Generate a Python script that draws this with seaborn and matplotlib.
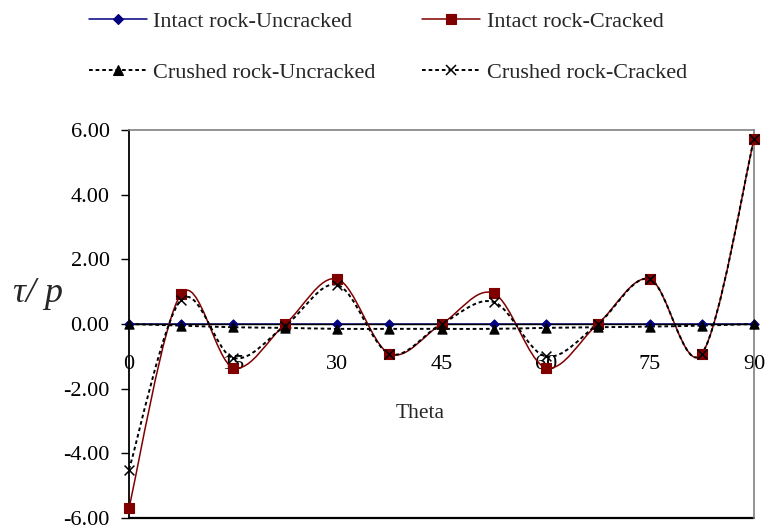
import numpy as np
import pandas as pd
import matplotlib
matplotlib.use("Agg")
import matplotlib.pyplot as plt
from matplotlib.path import Path
from matplotlib.patches import PathPatch
from matplotlib.lines import Line2D
import seaborn as sns

# Normalised shear stress around the opening versus angle
theta = [0, 7.5, 15, 22.5, 30, 37.5, 45, 52.5, 60, 67.5, 75, 82.5, 90]
intact_uncracked = [0.0, 0.0, 0.0, 0.0, 0.0, 0.0, 0.0, 0.0, 0.0, 0.0, 0.0, 0.0, 0.0]
intact_cracked = [-5.68, 0.93, -1.35, 0.0, 1.39, -0.92, 0.0, 0.95, -1.35, 0.0, 1.39, -0.92, 5.72]
crushed_uncracked = [0.0, -0.05, -0.10, -0.12, -0.15, -0.15, -0.15, -0.15, -0.12, -0.10, -0.08, -0.05, 0.0]
crushed_cracked = [-4.50, 0.75, -1.05, -0.05, 1.21, -0.92, 0.0, 0.68, -1.00, 0.0, 1.39, -0.92, 5.72]

series_names = ["Intact rock-Uncracked", "Intact rock-Cracked",
                "Crushed rock-Uncracked", "Crushed rock-Cracked"]
x_ticks = [0, 15, 30, 45, 60, 75, 90]
y_ticks = [-6, -4, -2, 0, 2, 4, 6]
x_tick_labels = [str(v) for v in x_ticks]
y_tick_labels = [f"{v:.2f}" for v in y_ticks]

sns.set_theme(style="white")
plt.rcParams["font.family"] = ["Liberation Serif", "DejaVu Serif"]

DOT = (0, (1.9, 1.5))
styles = {
    "Intact rock-Uncracked": dict(color="#000080", ls="-", lw=1.1, marker="D", s=22, mlw=0.8),
    "Intact rock-Cracked": dict(color="#800000", ls="-", lw=1.1, marker="s", s=60, mlw=0.8),
    "Crushed rock-Uncracked": dict(color="black", ls=DOT, lw=1.4, marker="^", s=44, mlw=0.8),
    "Crushed rock-Cracked": dict(color="black", ls=DOT, lw=1.4, marker="x", s=50, mlw=1.1),
}

df = pd.DataFrame({
    "theta": theta * 4,
    "value": intact_uncracked + intact_cracked + crushed_uncracked + crushed_cracked,
    "series": sum([[n] * len(theta) for n in series_names], []),
})


def smooth_path(xs, ys):
    """Cubic Bezier curve through the points (Catmull-Rom style tangents)."""
    p = np.column_stack([xs, ys]).astype(float)
    ext = np.vstack([p[0], p, p[-1]])
    verts = [p[0]]
    codes = [Path.MOVETO]
    for i in range(len(p) - 1):
        a, b, c, d = ext[i], ext[i + 1], ext[i + 2], ext[i + 3]
        verts += [b + (c - a) / 6.0, c - (d - b) / 6.0, c]
        codes += [Path.CURVE4] * 3
    return Path(verts, codes)


fig = plt.figure(figsize=(7.65, 5.27), dpi=100)
ax = fig.add_axes([129 / 765, 9 / 527, 625 / 765, 388 / 527])

# smoothed connecting lines
for k, name in enumerate(series_names):
    st = styles[name]
    sub = df[df["series"] == name]
    patch = PathPatch(smooth_path(sub["theta"], sub["value"]), fill=False,
                      edgecolor=st["color"], linewidth=st["lw"], linestyle=st["ls"],
                      zorder=2 + k, capstyle="butt")
    ax.add_patch(patch)

# markers
for k, name in enumerate(series_names):
    st = styles[name]
    sub = df[df["series"] == name]
    if st["marker"] == "x":
        sns.scatterplot(data=sub, x="theta", y="value", marker="x", s=st["s"],
                        color=st["color"], linewidth=st["mlw"], ax=ax, zorder=10 + k,
                        legend=False, clip_on=False)
    else:
        sns.scatterplot(data=sub, x="theta", y="value", marker=st["marker"], s=st["s"],
                        color=st["color"], edgecolor=st["color"], linewidth=st["mlw"],
                        ax=ax, zorder=10 + k, legend=False, clip_on=False)

ax.set_xlim(0, 90)
ax.set_ylim(-6, 6)
ax.set_xticks(x_ticks)
ax.set_xticklabels(x_tick_labels)
ax.set_yticks(y_ticks)
ax.set_yticklabels(y_tick_labels)
ax.set_xlabel("")
ax.set_ylabel("")
ax.tick_params(axis="x", length=0, pad=22, labelsize=16, colors="black")
ax.tick_params(axis="y", length=6, width=1.0, direction="out", pad=8,
               labelsize=16, colors="black", left=True)

ax.spines["bottom"].set_position(("data", 0))
ax.spines["bottom"].set_color("black")
ax.spines["bottom"].set_linewidth(1.0)
ax.spines["left"].set_color("black")
ax.spines["left"].set_linewidth(1.3)
for side in ("top", "right"):
    ax.spines[side].set_color("#808080")
    ax.spines[side].set_linewidth(1.2)
ax.axhline(-6, color="black", lw=1.6, clip_on=False, zorder=1)

ax.text((420 - 129) / 625, (518 - 418) / 388, "Theta", transform=ax.transAxes,
        ha="center", va="baseline", fontsize=15.5)
fig.text(13 / 765, 1 - 302 / 527, "τ/ p", ha="left", va="baseline",
         fontsize=26, style="italic")

handles = {}
for name in series_names:
    st = styles[name]
    handles[name] = Line2D([], [], color=st["color"], linestyle=st["ls"], linewidth=st["lw"],
                           marker=st["marker"], markersize=np.sqrt(st["s"]),
                           markerfacecolor=st["color"], markeredgecolor=st["color"],
                           markeredgewidth=st["mlw"])
order = ["Intact rock-Uncracked", "Crushed rock-Uncracked",
         "Intact rock-Cracked", "Crushed rock-Cracked"]
fig.legend([handles[n] for n in order], order, ncol=2, loc="upper left",
           bbox_to_anchor=(89 / 765, 1 - 11 / 527), frameon=False, fontsize=16,
           handlelength=2.6, handletextpad=0.3, columnspacing=2.1, labelspacing=1.4,
           borderpad=0, borderaxespad=0, numpoints=1)

fig.savefig("out.png", dpi=100)
